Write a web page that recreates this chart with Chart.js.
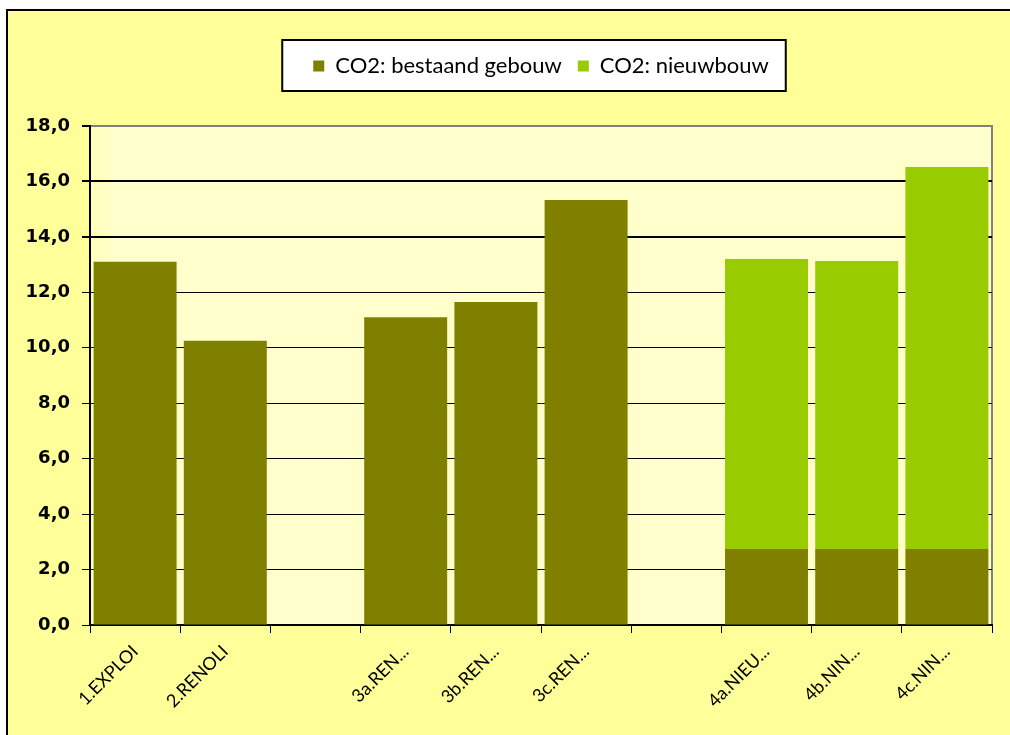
<!DOCTYPE html>
<html>
<head>
<meta charset="utf-8">
<script src="https://cdn.jsdelivr.net/npm/chart.js@4/dist/chart.umd.min.js"></script>
<style>
  html, body { margin: 0; padding: 0; background: #ffffff; }
  #myChart { position: absolute; left: 0; top: 0; }
</style>
</head>
<body>
<canvas id="myChart" width="1010" height="735"></canvas>
<script>
// categories (empty strings are the gaps between groups)
var labels = ['1.EXPLOI', '2.RENOLI', '', '3a.REN...', '3b.REN...', '3c.REN...', '', '4a.NIEU...', '4b.NIN...', '4c.NIN...'];
var bestaand = [13.1, 10.25, null, 11.1, 11.65, 15.33, null, 2.74, 2.74, 2.74];
var nieuwbouw = [null, null, null, null, null, null, null, 10.46, 10.39, 13.78];
var seriesNames = ['CO2: bestaand gebouw', 'CO2: nieuwbouw'];
var seriesColors = ['#808000', '#99CC00'];

var backgroundPlugin = {
    id: 'backgroundPlugin',
    beforeDraw: function(chart) {
        var c = chart.ctx;
        var a = chart.chartArea;
        c.save();
        // outer chart frame
        c.fillStyle = '#ffffff';
        c.fillRect(0, 0, chart.width, chart.height);
        c.fillStyle = '#FFFF99';
        c.fillRect(8, 11, chart.width, chart.height);
        c.strokeStyle = '#000000';
        c.lineWidth = 2;
        c.beginPath();
        c.moveTo(7, chart.height);
        c.lineTo(7, 10);
        c.lineTo(chart.width, 10);
        c.stroke();
        // plot area
        var g = c.createLinearGradient(a.left, 0, a.right, 0);
        g.addColorStop(0, '#FFFFB8');
        g.addColorStop(0.03, '#FFFFCC');
        g.addColorStop(1, '#FFFFCC');
        c.fillStyle = g;
        c.fillRect(a.left, a.top, a.right - a.left, a.bottom - a.top);
        c.strokeStyle = '#808080';
        c.lineWidth = 2;
        c.beginPath();
        c.moveTo(a.left, a.top);
        c.lineTo(a.right, a.top);
        c.lineTo(a.right, a.bottom);
        c.stroke();
        // legend box
        var hb = chart.legend.legendHitBoxes;
        if (hb && hb.length) {
            var first = hb[0], last = hb[hb.length - 1];
            var mid = first.top + first.height / 2;
            var x0 = first.left - 31, x1 = last.left + last.width + 17;
            c.fillStyle = '#ffffff';
            c.fillRect(x0, mid - 26, x1 - x0, 51);
            c.strokeStyle = '#000000';
            c.lineWidth = 2;
            c.strokeRect(x0, mid - 26, x1 - x0, 51);
        }
        c.restore();
    }
};

var ctx = document.getElementById('myChart');
var myChart = new Chart(ctx, {
    type: 'bar',
    data: {
        labels: labels,
        datasets: [{
            label: seriesNames[0],
            data: bestaand,
            backgroundColor: seriesColors[0],
            borderWidth: 0,
            categoryPercentage: 1.0,
            barPercentage: 0.92
        }, {
            label: seriesNames[1],
            data: nieuwbouw,
            backgroundColor: seriesColors[1],
            borderWidth: 0,
            categoryPercentage: 1.0,
            barPercentage: 0.92
        }]
    },
    plugins: [backgroundPlugin],
    options: {
        responsive: false,
        animation: false,
        devicePixelRatio: 1,
        layout: { padding: { left: 10, right: 18, top: 39, bottom: 0 } },
        plugins: {
            legend: {
                position: 'top',
                fullSize: false,
                labels: {
                    boxWidth: 11,
                    boxHeight: 11,
                    padding: 16,
                    color: '#000000',
                    font: { family: 'Lato', size: 22 }
                }
            },
            title: {
                display: true,
                text: '',
                weight: 500,
                padding: 10,
                font: { size: 19, lineHeight: 1 }
            },
            tooltip: { enabled: false }
        },
        scales: {
            x: {
                stacked: true,
                afterFit: function(scale) { scale.height = 110; },
                border: { display: true, color: '#000000', width: 2 },
                grid: {
                    display: true,
                    offset: true,
                    drawOnChartArea: false,
                    drawTicks: true,
                    tickLength: 8,
                    color: '#000000',
                    lineWidth: 1
                },
                ticks: {
                    autoSkip: false,
                    minRotation: 45,
                    maxRotation: 45,
                    padding: 8,
                    color: '#000000',
                    font: { family: 'Lato', size: 18 }
                }
            },
            y: {
                stacked: true,
                min: 0,
                max: 18,
                afterFit: function(scale) { scale.width = 80; },
                border: { display: true, color: '#000000', width: 2 },
                grid: {
                    color: function(c) { return c.tick && c.tick.value === 18 ? 'rgba(0,0,0,0)' : '#000000'; },
                    tickColor: '#000000',
                    lineWidth: function(c) { return c.tick && c.tick.value >= 14 ? 2 : 1; },
                    tickLength: 8
                },
                ticks: {
                    stepSize: 2,
                    padding: 12,
                    color: '#000000',
                    font: { family: 'DejaVu Sans', size: 18, weight: 'bold' },
                    callback: function(v) { return v.toFixed(1).replace('.', ','); }
                }
            }
        }
    }
});
</script>
</body>
</html>
